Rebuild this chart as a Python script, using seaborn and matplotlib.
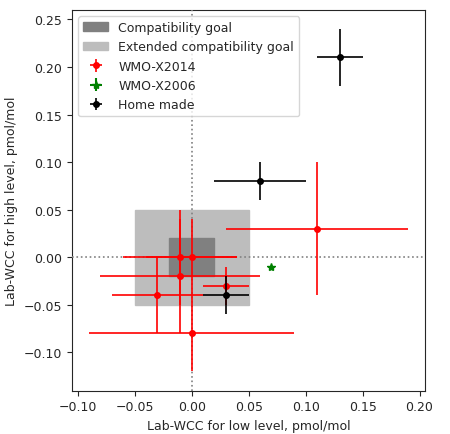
import matplotlib
matplotlib.use("Agg")
import matplotlib.pyplot as plt
import seaborn as sns
from matplotlib.patches import Rectangle

sns.set_style("ticks")
plt.rcParams['font.family'] = ['DejaVu Sans']

wmo14_x = [-0.01, 0.0, -0.01, 0.03, -0.03, 0.0, 0.11]
wmo14_y = [0.0, 0.0, -0.02, -0.03, -0.04, -0.08, 0.03]
wmo14_xe = [0.05, 0.04, 0.07, 0.02, 0.04, 0.09, 0.08]
wmo14_ye = [0.05, 0.04, 0.06, 0.02, 0.04, 0.04, 0.07]
wmo06_x = [0.07]
wmo06_y = [-0.01]
home_x = [0.03, 0.06, 0.13]
home_y = [-0.04, 0.08, 0.21]
home_xe = [0.02, 0.04, 0.02]
home_ye = [0.02, 0.02, 0.03]

fig, ax = plt.subplots(figsize=(4.5, 4.35), dpi=100)
ax.add_patch(Rectangle((-0.05, -0.05), 0.1, 0.1, color='#bdbdbd', label='Extended compatibility goal', zorder=1))
ax.add_patch(Rectangle((-0.02, -0.02), 0.04, 0.04, color='#808080', label='Compatibility goal', zorder=2))
ax.axhline(0, color='gray', ls=':', lw=1.2, zorder=3)
ax.axvline(0, color='gray', ls=':', lw=1.2, zorder=3)
ax.errorbar(wmo14_x, wmo14_y, xerr=wmo14_xe, yerr=wmo14_ye, fmt='o', color='red', ms=4, lw=1.2, label='WMO-X2014', zorder=4)
ax.errorbar(wmo06_x, wmo06_y, xerr=[0], yerr=[0], fmt='*', color='green', ms=6, label='WMO-X2006', zorder=4)
ax.errorbar(home_x, home_y, xerr=home_xe, yerr=home_ye, fmt='o', color='black', ms=4, lw=1.2, label='Home made', zorder=5)
ax.set_xlim(-0.105, 0.205)
ax.set_ylim(-0.14, 0.26)
ax.set_xticks([-0.1, -0.05, 0, 0.05, 0.1, 0.15, 0.2])
ax.set_xlabel('Lab-WCC for low level, pmol/mol', fontsize=9)
ax.set_ylabel('Lab-WCC for high level, pmol/mol', fontsize=9)
ax.tick_params(labelsize=9)
h, l = ax.get_legend_handles_labels()
order = [l.index(n) for n in ['Compatibility goal', 'Extended compatibility goal', 'WMO-X2014', 'WMO-X2006', 'Home made']]
ax.legend([h[i] for i in order], [l[i] for i in order], loc='upper left', fontsize=9)
fig.subplots_adjust(left=0.16, right=0.945, bottom=0.1, top=0.975)
fig.savefig('out.png', dpi=100)
